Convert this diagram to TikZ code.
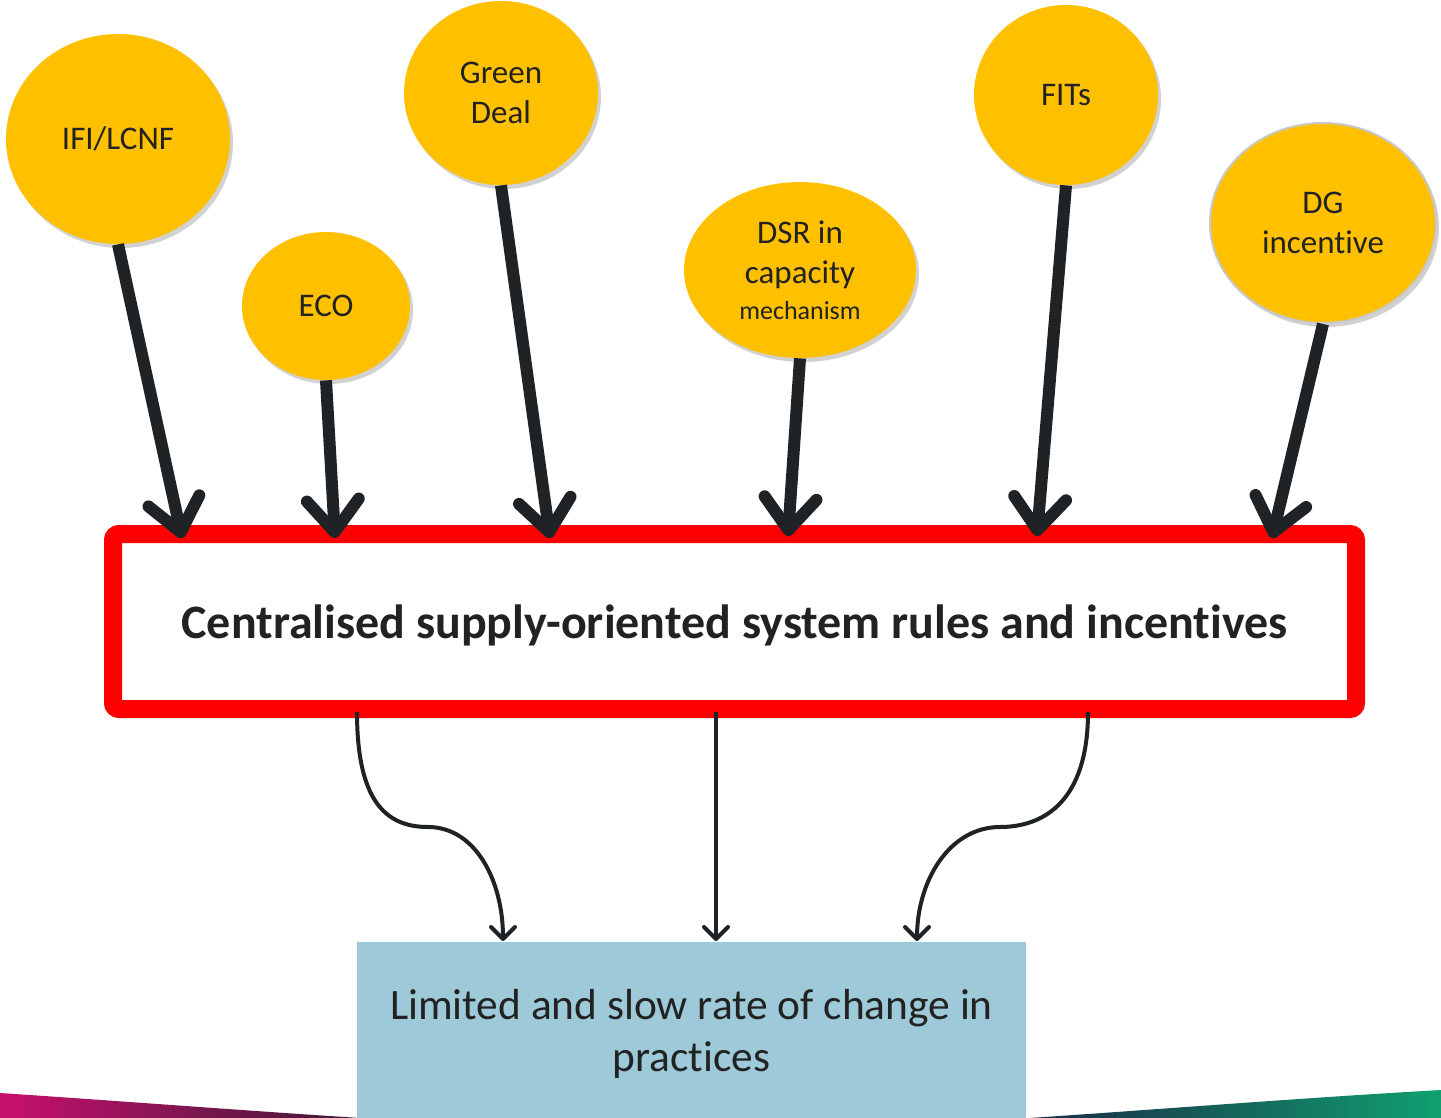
\documentclass[tikz,border=0pt]{standalone}
\usepackage{fontspec}
\setmainfont{Carlito}[Ligatures=NoCommon]
\usetikzlibrary{arrows.meta,shapes.geometric,shadows}
\definecolor{gold}{RGB}{255,192,0}
\definecolor{ink}{RGB}{31,35,38}
\definecolor{txt}{RGB}{34,34,34}
\definecolor{pale}{RGB}{157,201,216}
\definecolor{magenta1}{RGB}{200,16,110}
\definecolor{plum}{RGB}{60,26,52}
\definecolor{navy1}{RGB}{26,42,70}
\definecolor{green1}{RGB}{16,160,112}
\begin{document}
\begin{tikzpicture}[x=0.5pt,y=-0.5pt,
  bubble/.style={ellipse, fill=gold, text=txt, align=center, inner sep=0pt,
    font=\fontsize{16.5pt}{20pt}\selectfont,
    drop shadow={shadow xshift=1.5pt, shadow yshift=-2pt, opacity=0.18, fill=black}},
  bigarrow/.style={draw=ink, line width=6pt, -{Straight Barb[length=16pt,width=26pt,round]}},
  thinarrow/.style={draw=ink, line width=2pt, -{Straight Barb[length=6pt,width=12pt,round]}},
]
\useasboundingbox (0,0) rectangle (1441,1118);
\fill[white] (0,0) rectangle (1441,1118);

% bottom swooshes
\shade[left color=magenta1, right color=plum] (0,1093) .. controls (120,1101) and (250,1111) .. (360,1118) -- (0,1118) -- cycle;
\shade[left color=navy1, right color=green1] (1030,1118) .. controls (1150,1110) and (1300,1098) .. (1441,1090) -- (1441,1118) -- cycle;

% main box
\node[draw=red, line width=9pt, fill=white, rounded corners=3pt,
  minimum width=621.5pt, minimum height=87.5pt, inner sep=0pt,
  text=txt, font=\bfseries\fontsize{24pt}{28pt}\selectfont] (main) at (734.5,621.5)
  {\raisebox{-2pt}[\height][\depth]{Centralised supply-oriented system rules and incentives}};

% result box
\node[fill=pale, minimum width=334.5pt, minimum height=88pt, inner sep=0pt,
  align=center, text=txt, font=\fontsize{21.7pt}{26pt}\selectfont] (res) at (691.5,1030)
  {\raisebox{-2pt}[\height][\depth]{\parbox{330pt}{\centering Limited and slow rate of change in\\practices}}};

% bubbles
\node[bubble, minimum width=112pt, minimum height=105pt] (ifi) at (118,139) {IFI/LCNF};
\node[bubble, minimum width=84pt, minimum height=74pt] (eco) at (326,306) {ECO};
\node[bubble, minimum width=97pt, minimum height=92pt] (gd) at (501,93) {Green\\Deal};
\node[bubble, minimum width=116pt, minimum height=88pt] (dsr) at (800,270)
  {DSR in\\capacity\\[-2pt]{\fontsize{13pt}{15pt}\selectfont mechanism}};
\node[bubble, minimum width=92pt, minimum height=90pt] (fit) at (1066,95) {FITs};
\node[bubble, draw={rgb,255:red,200;green,200;blue,200}, line width=1pt,
  minimum width=113pt, minimum height=100pt] (dg) at (1323,223) {DG\\incentive};

% targets on main box
\coordinate (t1) at (182,538);
\coordinate (t2) at (335,538);
\coordinate (t3) at (550,538);
\coordinate (t4) at (788,536);
\coordinate (t5) at (1037,536);
\coordinate (t6) at (1272,538);

\draw[bigarrow] (ifi.south) -- (t1);
\draw[bigarrow] (eco.south) -- (t2);
\draw[bigarrow] (gd.south) -- (t3);
\draw[bigarrow] (dsr.south) -- (t4);
\draw[bigarrow] (fit.south) -- (t5);
\draw[bigarrow] (dg.south) -- (t6);

% lower connectors
\coordinate (s1) at (357,712);
\coordinate (s2) at (716,712);
\coordinate (s3) at (1088,712);
\coordinate (e1) at (503,941);
\coordinate (e2) at (716,941);
\coordinate (e3) at (917,941);

\draw[thinarrow] (s1) .. controls (357,800) and (385,827) .. (428,827)
  .. controls (475,827) and (503,880) .. (e1);
\draw[thinarrow] (s2) -- (e2);
\draw[thinarrow] (s3) .. controls (1088,800) and (1045,827) .. (1000,827)
  .. controls (950,827) and (917,880) .. (e3);
\end{tikzpicture}
\end{document}
